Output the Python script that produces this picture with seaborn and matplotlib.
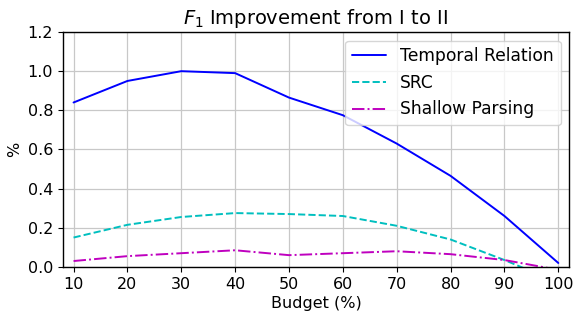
import matplotlib
matplotlib.use("Agg")
import matplotlib.pyplot as plt
import seaborn as sns
import pandas as pd

budget = [10, 20, 30, 40, 50, 60, 70, 80, 90, 100]
temporal = [0.84, 0.95, 1.00, 0.99, 0.865, 0.775, 0.63, 0.465, 0.26, 0.02]
src = [0.15, 0.215, 0.255, 0.275, 0.27, 0.26, 0.21, 0.14, 0.035, -0.08]
shallow = [0.03, 0.055, 0.07, 0.085, 0.06, 0.07, 0.08, 0.065, 0.035, -0.015]
series_names = ["Temporal Relation", "SRC", "Shallow Parsing"]
yticks = [0.0, 0.2, 0.4, 0.6, 0.8, 1.0, 1.2]

sns.set_style("ticks")
plt.rcParams['font.family'] = ['DejaVu Sans']
plt.rcParams.update({"text.color": "black", "axes.labelcolor": "black",
                     "xtick.color": "black", "ytick.color": "black"})

fig, ax = plt.subplots(figsize=(5.76, 3.14), dpi=100)
styles = [("b", "-"), ("c", "--"), ("m", "-.")]
for name, vals, (col, ls) in zip(series_names, [temporal, src, shallow], styles):
    df = pd.DataFrame({"Budget": budget, "v": vals})
    sns.lineplot(data=df, x="Budget", y="v", ax=ax, color=col, linestyle=ls,
                 label=name, linewidth=1.4)

ax.set_xlim(8, 102)
ax.set_ylim(0, 1.2)
ax.set_xticks(budget)
ax.set_yticks(yticks)
ax.grid(True, color="#c8c8c8", linewidth=0.9)
for s in ax.spines.values():
    s.set_color("black")
    s.set_linewidth(1.0)
ax.tick_params(axis="both", labelsize=11.5, direction="out", length=3.5, color="black")
ax.set_xlabel("Budget (%)", fontsize=11.5, labelpad=3)
ax.set_ylabel("%", fontsize=11.5)
ax.set_title("$F_1$ Improvement from I to II", fontsize=14)
leg = ax.legend(loc="upper right", fontsize=12.3, frameon=True)
fig.subplots_adjust(left=0.109, right=0.988, top=0.898, bottom=0.15)
fig.savefig("out.png", dpi=100)
